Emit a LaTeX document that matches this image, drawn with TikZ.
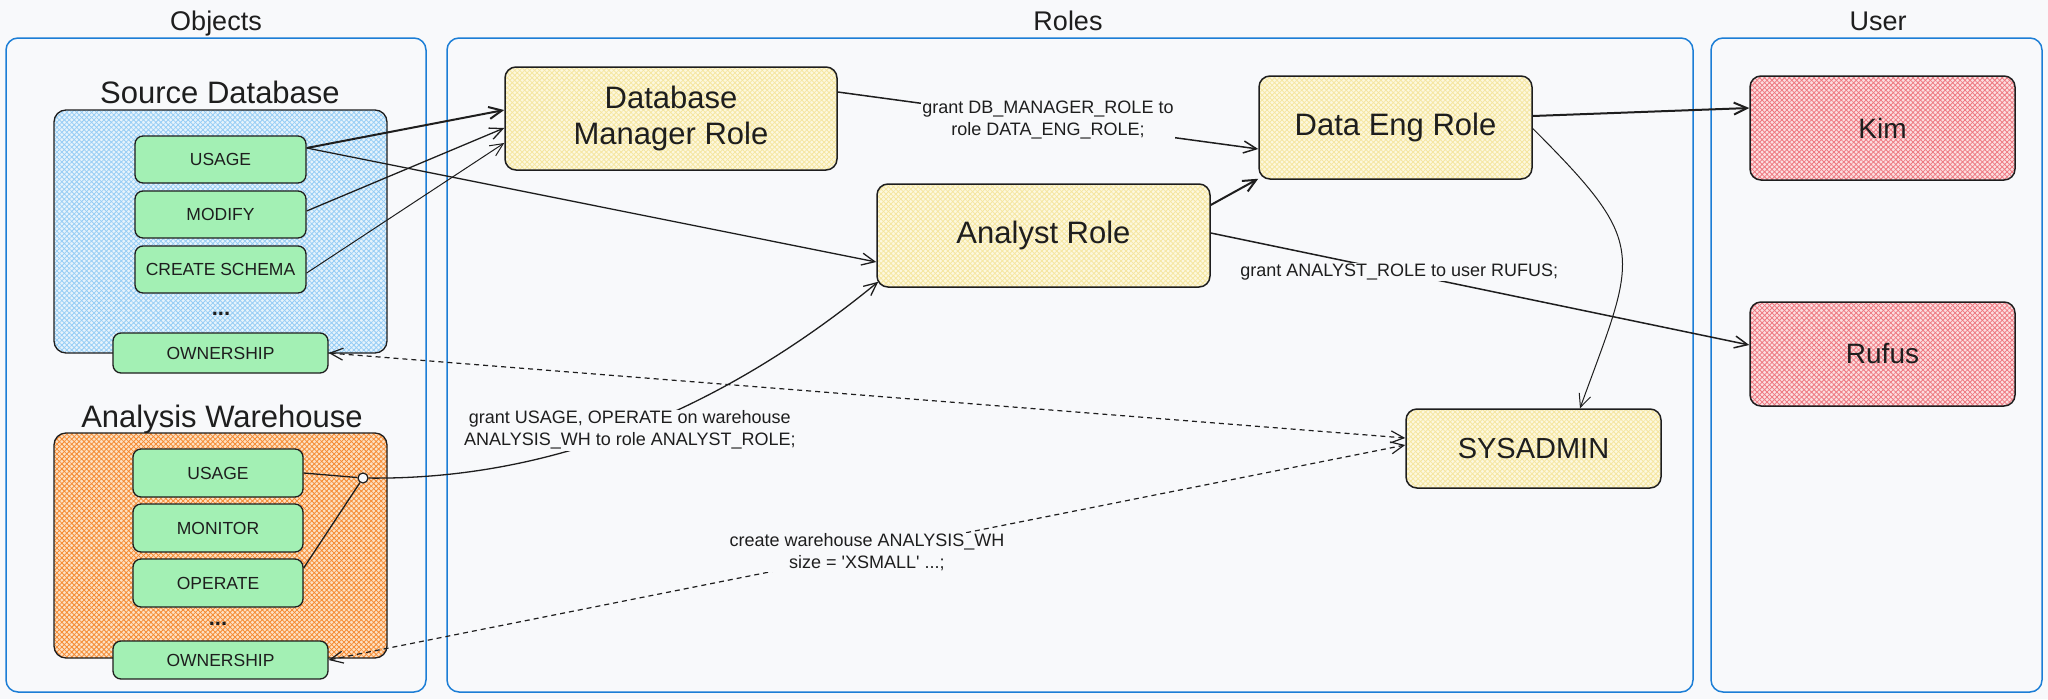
\documentclass[tikz,border=0pt]{standalone}
\usepackage{fontspec}
\setmainfont{Liberation Sans}
\usetikzlibrary{arrows.meta,patterns.meta,calc}

\definecolor{bg}{HTML}{F8F9FB}
\definecolor{panel}{HTML}{1C7ED6}
\definecolor{ink}{HTML}{1E1E1E}
\definecolor{privfill}{HTML}{A3F0B4}
\definecolor{dbbase}{HTML}{E6F3FC}
\definecolor{dbline}{HTML}{96CDF5}
\definecolor{whbase}{HTML}{FDE1C3}
\definecolor{whline}{HTML}{F58A32}
\definecolor{rolebase}{HTML}{FDF8DE}
\definecolor{roleline}{HTML}{F5E6A0}
\definecolor{userbase}{HTML}{FCDEE0}
\definecolor{userline}{HTML}{EE7880}

\begin{document}
\begin{tikzpicture}[x=1pt,y=-1pt,
  hatched/.style 2 args={
    preaction={fill=#1},
    preaction={pattern={Lines[angle=45,distance=3.5pt,line width=0.8pt]},pattern color=#2},
    preaction={pattern={Lines[angle=-45,distance=3.5pt,line width=0.8pt]},pattern color=#2}},
  paneltitle/.style={font=\fontsize{27}{32}\selectfont, text=ink, anchor=base, inner sep=0pt},
  grouptitle/.style={font=\fontsize{31}{36}\selectfont, text=ink, anchor=base, inner sep=0pt},
  panelbox/.style={draw=panel, line width=1.5pt, rounded corners=12pt, inner sep=0pt},
  groupbox/.style={draw=ink, line width=1.3pt, rounded corners=12pt, inner sep=0pt},
  priv/.style={draw=ink, line width=1.3pt, fill=privfill, rounded corners=8pt,
    minimum width=171pt, minimum height=47pt, inner sep=0pt,
    font=\fontsize{17.5}{20}\selectfont, text=ink},
  dots/.style={font=\bfseries\fontsize{22}{24}\selectfont, text=ink, inner sep=0pt},
  role/.style={draw=ink, line width=1.5pt, rounded corners=11pt, hatched={rolebase}{roleline},
    inner sep=0pt, font=\fontsize{31}{36}\selectfont, align=center, text=ink},
  userbox/.style={draw=ink, line width=1.5pt, rounded corners=11pt, hatched={userbase}{userline},
    inner sep=0pt, minimum width=265pt, minimum height=104pt,
    font=\fontsize{28}{32}\selectfont, text=ink},
  lbl/.style={fill=bg, inner sep=1pt, font=\fontsize{18}{22}\selectfont, align=center, text=ink},
  conn/.style={draw=ink, line width=1.3pt, -{Straight Barb[length=13pt,width=12pt]}},
  plainconn/.style={draw=ink, line width=1.3pt},
  dashconn/.style={draw=ink, line width=1.2pt, dash pattern=on 5pt off 4pt,
    {Straight Barb[length=13pt,width=12pt]}-{Straight Barb[length=13pt,width=12pt]}}
]
\useasboundingbox (0,0) rectangle (2048,699);
\fill[bg] (0,0) rectangle (2048,699);

% panels
\node[panelbox, minimum width=420pt, minimum height=654pt] (objpanel) at (216,365) {};
\node[panelbox, minimum width=1246pt, minimum height=654pt] (rolepanel) at (1070,365) {};
\node[panelbox, minimum width=331pt, minimum height=654pt] (userpanel) at (1876.5,365) {};
\node[paneltitle] (tobj) at (216,30) {Objects};
\node[paneltitle] (trole) at (1068,30) {Roles};
\node[paneltitle] (tuser) at (1878,30) {User};

% source database
\node[grouptitle] (tsrc) at (220,103) {Source Database};
\node[groupbox, hatched={dbbase}{dbline}, minimum width=333pt, minimum height=243pt] (srcdb) at (220.5,231.5) {};
\node[priv] (susage) at (220.5,159.5) {USAGE};
\node[priv] (smodify) at (220.5,214.5) {MODIFY};
\node[priv] (sschema) at (220.5,269.5) {CREATE SCHEMA};
\node[dots] (sdots) at (221,314) {...};
\node[priv, minimum width=215pt, minimum height=40pt] (sown) at (220.5,353) {OWNERSHIP};

% analysis warehouse
\node[grouptitle] (twh) at (222,427) {Analysis Warehouse};
\node[groupbox, hatched={whbase}{whline}, minimum width=333pt, minimum height=225pt] (wh) at (220.5,545.5) {};
\node[priv, minimum width=170pt, minimum height=48pt] (wusage) at (218,473) {USAGE};
\node[priv, minimum width=170pt, minimum height=48pt] (wmonitor) at (218,528) {MONITOR};
\node[priv, minimum width=170pt, minimum height=48pt] (woperate) at (218,583) {OPERATE};
\node[dots] (wdots) at (218,624) {...};
\node[priv, minimum width=215pt, minimum height=38pt] (wown) at (220.5,660) {OWNERSHIP};
\node[circle, draw=ink, line width=1.2pt, fill=bg, minimum size=10pt, inner sep=0pt] (junction) at (363,478) {};

% roles
\node[role, minimum width=332pt, minimum height=103pt] (dbm) at (671,118.5) {Database\\Manager Role};
\node[role, minimum width=333pt, minimum height=103pt] (analyst) at (1043.5,235.5) {Analyst Role};
\node[role, minimum width=273pt, minimum height=103pt] (dataeng) at (1395.5,127.5) {Data Eng Role};
\node[role, minimum width=255pt, minimum height=79pt, font=\fontsize{29}{34}\selectfont] (sysadmin) at (1533.5,448.5) {SYSADMIN};

% users
\node[userbox] (kim) at (1882.5,128) {Kim};
\node[userbox] (rufus) at (1882.5,354) {Rufus};

% connectors
\draw[conn, line width=2pt] ([yshift=11.5pt]susage.east) -- ([yshift=8.5pt]dbm.west);
\draw[conn] ([yshift=3.5pt]smodify.east) -- ([yshift=-9.5pt]dbm.west);
\draw[conn, line width=1pt] ([yshift=-3.5pt]sschema.east) -- ([yshift=-24.5pt]dbm.west);
\draw[conn] ([yshift=11.5pt]susage.east) -- ([yshift=-26.5pt]analyst.west);

\draw[plainconn] (wusage.east) -- (junction);
\draw[plainconn] ([yshift=15pt]woperate.east) -- (junction);
\draw[conn] (junction) .. controls (547,480) and (717,414) .. ([xshift=2pt,yshift=6pt]analyst.south west)
  node[lbl, pos=0.5] (lblwh) {grant USAGE, OPERATE on warehouse\\ANALYSIS\_WH to role ANALYST\_ROLE;};

\draw[conn, line width=1.5pt] ([yshift=26.5pt]dbm.east) -- ([yshift=-21.5pt]dataeng.west)
  node[lbl, midway] (lbldbm) {grant DB\_MANAGER\_ROLE to\\role DATA\_ENG\_ROLE;};
\draw[conn, line width=2pt] ([yshift=11.5pt]dataeng.east) -- ([yshift=20pt]kim.west);
\draw[conn, line width=2pt] ([yshift=30.5pt]analyst.east) -- ([yshift=1pt]dataeng.south west);
\draw[conn, line width=1.5pt] ([yshift=2.5pt]analyst.east) -- ([yshift=9pt]rufus.west)
  node[lbl, pos=0.35] (lblrufus) {grant ANALYST\_ROLE to user RUFUS;};
\draw[conn, line width=1pt] ([yshift=-1pt]dataeng.east) to[out=-45,in=70,looseness=1.5] ([xshift=46.5pt]sysadmin.north);

\draw[dashconn] (sown.east) -- ([yshift=10.5pt]sysadmin.west);
\draw[dashconn] (wown.east) -- ([yshift=3.5pt]sysadmin.west)
  node[lbl, midway] (lblcreate) {create warehouse ANALYSIS\_WH\\size = \textquotesingle XSMALL\textquotesingle{} ...;};
\end{tikzpicture}
\end{document}
